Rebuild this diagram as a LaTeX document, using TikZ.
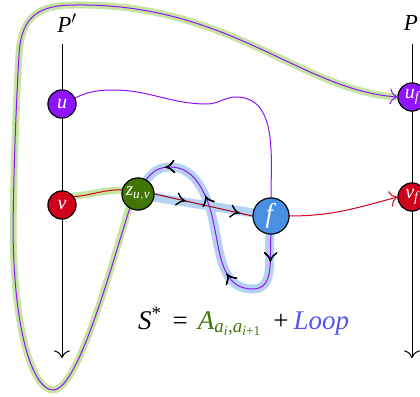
\documentclass[tikz,border=0pt]{standalone}
\usepackage{amsmath}
\usepackage{fontspec}
\setmainfont{Liberation Serif}
\usetikzlibrary{arrows.meta,decorations.markings}
\definecolor{cpurple}{HTML}{9013FE}
\definecolor{cred}{HTML}{D0021B}
\definecolor{cgreen}{HTML}{417505}
\definecolor{cblue}{HTML}{4A90E2}
\definecolor{hlgreen}{HTML}{C6E5A2}
\definecolor{hlblue}{HTML}{B5D2F2}
\definecolor{loopcol}{HTML}{5555EE}
\newcommand{\ti}[1]{\textit{#1}}
\begin{document}
\begin{tikzpicture}[x=1pt,y=-1pt,
  vnode/.style={circle,draw=black,line width=1pt,minimum size=28pt,inner sep=0pt,text=white,font=\fontsize{20}{20}\selectfont},
  arrowend/.style={-{To[scale=2]}},
  hlg/.style={draw=hlgreen,line width=7pt,line cap=round},
  hlb/.style={draw=hlblue,line width=9pt,line cap=round},
  thin/.style={line width=1pt},
  midarr/.style={postaction={decorate},decoration={markings,
     mark=at position #1 with {\draw[black,line width=1.1pt,line cap=round]
        (-7pt,-6pt) .. controls (-3pt,-1.5pt) .. (1pt,0pt)
        .. controls (-3pt,1.5pt) .. (-7pt,6pt);}}}
]
\useasboundingbox (0,0) rectangle (420,396);

% coordinates of nodes
\coordinate (pu) at (62,104);
\coordinate (pv) at (62,205);
\coordinate (pz) at (138,194);
\coordinate (pf) at (271,216);
\coordinate (puf) at (412,97);
\coordinate (pvf) at (412,197);

% vertical lines
\node[font=\fontsize{23}{23}\selectfont] (Pl) at (67,23) {\ti{P}$'$};
\node[font=\fontsize{23}{23}\selectfont] (Pr) at (411,23) {\ti{P}};
\coordinate (ltop) at (62,44);
\coordinate (lbot) at (62,358);
\coordinate (rtop) at (412,44);
\coordinate (rbot) at (412,358);
\draw[thin,arrowend] (ltop) -- (lbot);
\draw[thin,arrowend] (rtop) -- (rbot);

% green highlight: v -> z -> big loop -> u_f
\draw[hlg] (74,196) to[out=5,in=180] (124,190);
\draw[hlg] (129,208) .. controls (110,270) and (78,390) .. (53,390)
   .. controls (35,390) and (14,340) .. (13,230)
   .. controls (14,150) and (17,90) .. (19,55)
   .. controls (21,15) and (40,5) .. (75,5)
   .. controls (230,3) and (300,90) .. (396,97);

% blue highlight: loop
\draw[hlb] (153,197) -- (254,213);
\draw[hlb] (270,234) to[out=-95,in=0] (253,289) to[out=180,in=-68] (207,200)
   to[out=112,in=0] (170,167) to[out=180,in=55] (146,181);

% nodes
\node[vnode,fill=cpurple] (u) at (pu) {\ti{u}};
\node[vnode,fill=cred] (v) at (pv) {\ti{v}};
\node[vnode,fill=cgreen,minimum size=32pt,font=\fontsize{19}{19}\selectfont] (z) at (pz) {\ti{z}$_{\ti{u},\ti{v}}$};
\node[vnode,fill=cblue,minimum size=36pt,font=\fontsize{27}{27}\selectfont] (f) at (pf) {\ti{f}};
\node[vnode,fill=cpurple] (uf) at (puf) {\ti{u}$_{\ti{f}}$};
\node[vnode,fill=cred] (vf) at (pvf) {\ti{v}$_{\ti{f}}$};

% purple u -> f
\draw[cpurple,thin] (u.25) to[out=25,in=180] (113,90) to[out=0,in=180] (207,104)
   to[out=0,in=180] (236,97) to[out=0,in=90] (f.north);

% red v -> z -> f -> v_f
\draw[cred,thin] (v.35) to[out=5,in=180] (z.165);
\draw[cred!75!black,thin,midarr=0.3,midarr=0.85] (z.east) -- (f.west);
\draw[cred,thin,arrowend] (f.east) to[out=0,in=195] (vf.west);

% purple loop f -> z
\draw[cpurple,thin,midarr=0.1,midarr=0.37,midarr=0.69,midarr=0.9] (f.south) to[out=-95,in=0] (253,289) to[out=180,in=-68] (207,200)
   to[out=112,in=0] (170,167) to[out=180,in=55] (z.60);

% purple big loop z -> u_f
\draw[cpurple,thin,arrowend] (z.240) .. controls (110,270) and (78,390) .. (53,390)
   .. controls (35,390) and (14,340) .. (13,230)
   .. controls (14,150) and (17,90) .. (19,55)
   .. controls (21,15) and (40,5) .. (75,5)
   .. controls (230,3) and (300,90) .. (uf.west);

% redraw nodes on top
\node[vnode,fill=cpurple] at (pu) {\ti{u}};
\node[vnode,fill=cred] at (pv) {\ti{v}};
\node[vnode,fill=cgreen,minimum size=32pt,font=\fontsize{19}{19}\selectfont] at (pz) {\ti{z}$_{\ti{u},\ti{v}}$};
\node[vnode,fill=cblue,minimum size=36pt,font=\fontsize{27}{27}\selectfont] at (pf) {\ti{f}};
\node[vnode,fill=cpurple] at (puf) {\ti{u}$_{\ti{f}}$};
\node[vnode,fill=cred] at (pvf) {\ti{v}$_{\ti{f}}$};

% formula
\node[anchor=base west,inner sep=0pt,font=\fontsize{27}{27}\selectfont] (eq) at (138,329)
  {\ti{S}$^{\text{*}}$\hspace{11pt}=\hspace{10pt}\textcolor{cgreen}{\ti{A}$_{\ti{a}_{\ti{i}}\text{,}\ti{a}_{\ti{i}\text{+1}}}$}\hspace{12pt}+\hspace{5pt}\textcolor{loopcol}{\ti{Loop}}};
\end{tikzpicture}
\end{document}
